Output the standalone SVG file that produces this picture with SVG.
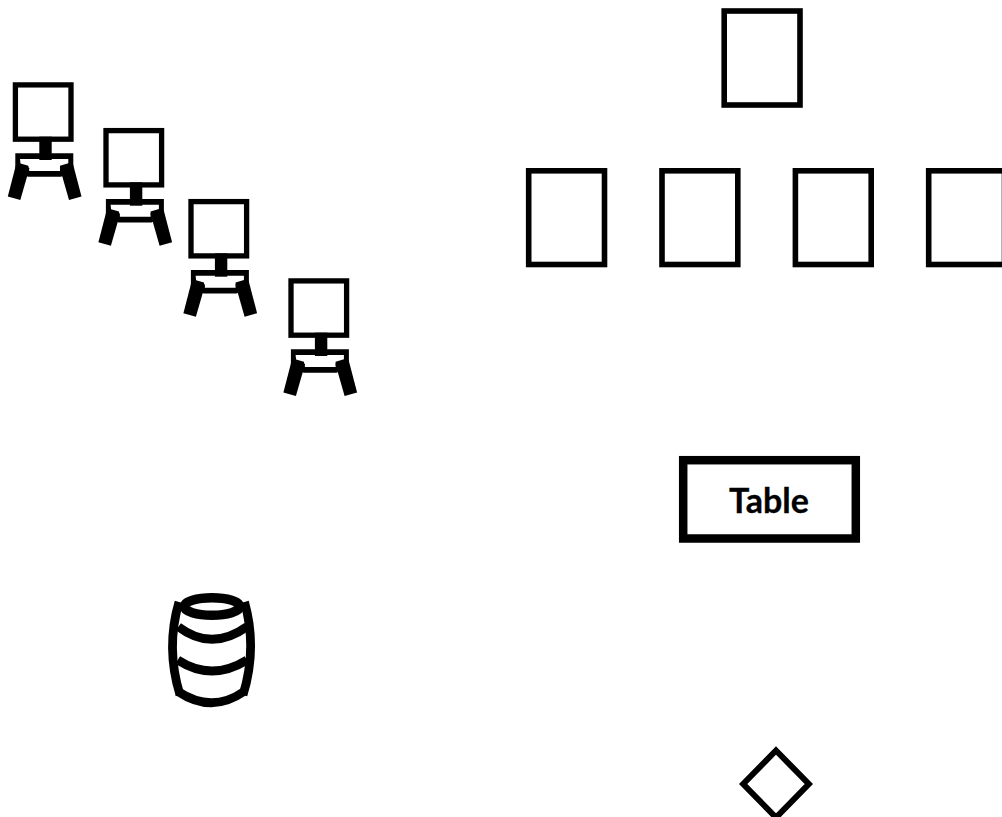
<svg xmlns="http://www.w3.org/2000/svg" width="1002" height="817" viewBox="0 0 1002 817">
<style>
.seat{fill:#fff;stroke:#000;stroke-width:5.3}
.k{fill:#000}
.w{fill:#fff}
.box{fill:#fff;stroke:#000;stroke-width:5.6}
.brl{fill:none;stroke:#000;stroke-width:8.8}
.lbl{font-family:Lato,"Open Sans",sans-serif;font-weight:700;font-size:34px;fill:#000;stroke:#000;stroke-width:.3;text-anchor:middle}
</style>
<defs>
<g id="easel">
<polygon class="k" points="15.3,153.3 73.3,153.3 73.3,170 61,176.7 28,176.7 15.3,170"/>
<polygon class="w" points="20,159 68.3,159 68.3,163.3 60,165.7 60,171 29.3,171 28.3,165.7 20.5,163.5"/>
<rect class="seat" x="15.4" y="84.9" width="55.6" height="54.3"/>
<rect class="k" x="39.3" y="136.7" width="12.4" height="23.3"/>
<polygon class="k" points="16.2,164 29.5,168 20.3,200 7.8,196.5"/>
<polygon class="k" points="59.8,167.7 73,164 81.5,196.5 69,200"/>
</g>
</defs>
<rect width="1002" height="817" fill="#fff"/>
<g id="easel-1"><use href="#easel"/></g>
<g id="easel-2"><use href="#easel" x="90.6" y="45.7"/></g>
<g id="easel-3"><use href="#easel" x="175.6" y="116.7"/></g>
<g id="easel-4"><use href="#easel" x="275.6" y="196"/></g>
<g id="box-top"><rect class="box" x="724.2" y="11" width="75.8" height="94"/></g>
<g id="box-1"><rect class="box" x="528.7" y="170.8" width="75.8" height="93.7"/></g>
<g id="box-2"><rect class="box" x="662" y="170.8" width="75.8" height="93.7"/></g>
<g id="box-3"><rect class="box" x="795.4" y="170.8" width="75.8" height="93.7"/></g>
<g id="box-4"><rect class="box" x="928.7" y="170.8" width="75.8" height="93.7"/></g>
<g id="table">
<rect x="683.2" y="460.2" width="172.6" height="78.3" fill="#fff" stroke="#000" stroke-width="8.5"/>
<text class="lbl" x="769" y="513">Table</text>
</g>
<g id="barrel">
<path class="brl" d="M179,602Q165.5,648 180,695"/>
<path class="brl" d="M244.5,602Q257.5,648 243,695"/>
<path class="brl" d="M178.3,626.7Q211.7,652 247,626.7"/>
<path class="brl" d="M177.7,660Q211.7,682 247,660"/>
<path class="brl" d="M178,691.5Q211.7,714 244,691.5"/>
<ellipse class="brl" cx="212" cy="606.5" rx="27.8" ry="8.8" style="stroke-width:9.5"/>
</g>
<g id="diamond"><polygon points="776,750.5 808.8,784 776,817.5 743.2,784" fill="#fff" stroke="#000" stroke-width="6"/></g>
<g id="connectors"></g>
</svg>
